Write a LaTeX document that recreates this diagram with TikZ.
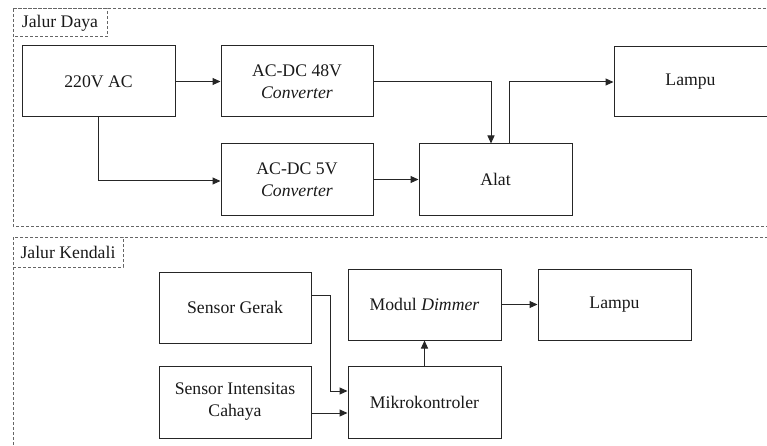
\documentclass[tikz,border=0pt]{standalone}
\usepackage{fontspec}
\setmainfont{Liberation Serif}
\usetikzlibrary{arrows.meta,calc}
\tikzset{
  blk/.style={draw=black!85, line width=1pt, minimum width=153pt, minimum height=71pt, inner sep=0pt, align=center, text=black!90, font=\fontsize{17.7}{22}\selectfont},
  frame/.style={draw=black!60, line width=1pt, dash pattern=on 3pt off 2pt},
  lbl/.style={text=black!90, font=\fontsize{17.7}{22}\selectfont, inner sep=0pt},
  conn/.style={draw=black!85, line width=1pt, -{Triangle[length=8pt,width=7pt]}},
  wire/.style={draw=black!85, line width=1pt}
}
\begin{document}
\begin{tikzpicture}[x=1pt,y=-1pt]
\useasboundingbox (0,0) rectangle (767,446);
\clip (0,0) rectangle (767,446);
% frames
\draw[frame] (13,9) rectangle (790,226);
\draw[frame] (13,9) rectangle (107,37);
\node[lbl] (ld) at (60,23.5) {Jalur Daya};
\draw[frame] (13,237) rectangle (790,470);
\draw[frame] (13,237) rectangle (123,267);
\node[lbl] (lk) at (68,252) {Jalur Kendali};
% top nodes
\node[blk] (pw) at (98.5,81.5) {220V AC};
\node[blk, minimum width=152pt] (c48) at (297,81.5) {AC-DC 48V\\\textit{Converter}};
\node[blk, minimum width=152pt] (c5) at (297,179.5) {AC-DC 5V\\\textit{Converter}};
\node[blk] (alat) at (495.5,179.5) {Alat};
\node[blk, minimum height=70pt] (lp1) at (690.5,82) {Lampu};
% top connectors
\draw[conn] (pw.east) -- (c48.west);
\draw[conn] (pw.south) |- ($(c5.west)+(0,1.5)$);
\draw[conn] (c5.east) -- (alat.west);
\draw[conn] (c48.east) -| ($(alat.north)+(-4.5,0)$);
\draw[conn] ($(alat.north)+(13.5,0)$) |- (lp1.west);
% bottom nodes
\node[blk, minimum width=152pt] (sg) at (235,307.5) {Sensor Gerak};
\node[blk, minimum width=152pt, minimum height=72pt] (si) at (235,402) {Sensor Intensitas\\Cahaya};
\node[blk] (md) at (424.5,304.5) {Modul \textit{Dimmer}};
\node[blk, minimum height=72pt] (mk) at (424.5,402) {Mikrokontroler};
\node[blk] (lp2) at (614.5,304.5) {Lampu};
% bottom connectors
\coordinate (mkin1) at ($(mk.west)+(0,-11)$);
\coordinate (mkin2) at ($(mk.west)+(0,11)$);
\coordinate (sgout) at ($(sg.east)+(0,-12.5)$);
\coordinate (jx) at (330,0);
\draw[conn] (sgout) -| (jx |- mkin1) -- (mkin1);
\draw[conn] ($(si.east)+(0,11)$) -- (mkin2);
\draw[conn] (mk.north) -- (md.south);
\draw[conn] (md.east) -- (lp2.west);
\end{tikzpicture}
\end{document}
